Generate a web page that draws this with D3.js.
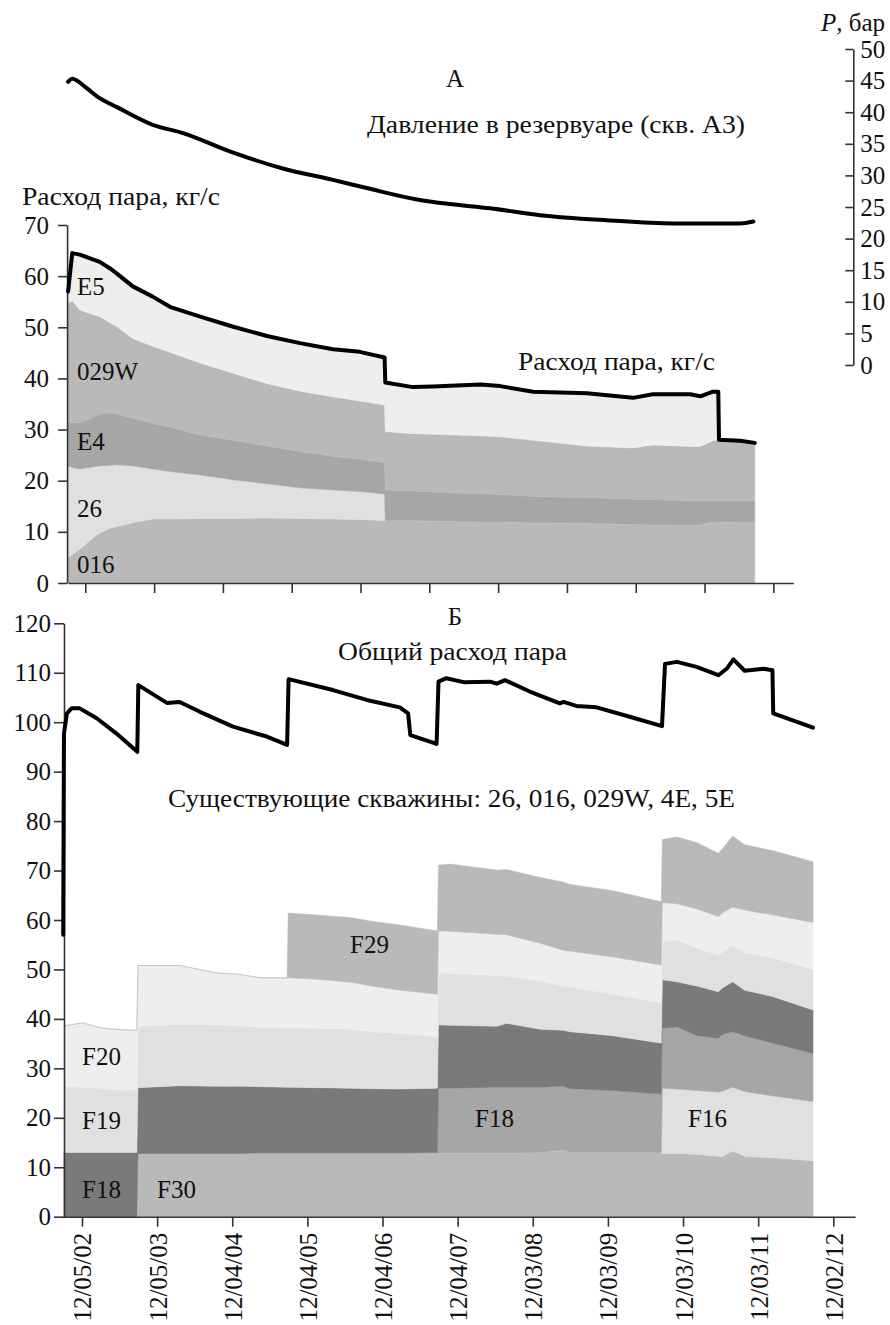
<!DOCTYPE html>
<html><head><meta charset="utf-8">
<script src="https://cdn.jsdelivr.net/npm/d3@7/dist/d3.min.js"></script>
<style>
body{margin:0;background:#fff;}
svg{display:block;}
</style></head><body>
<svg id="chart" width="890" height="1325"></svg>
<script>
// ---------- DATA ----------
// x: years since 12/05/02 (mm/dd/yy), ticks every 365 days
const tickYears = [0,1,2,3,4,5,6,7,8,9,10];
const tickLabels = ["12/05/02","12/05/03","12/04/04","12/04/05","12/04/06","12/04/07","12/03/08","12/03/09","12/03/10","12/03/11","12/02/12"];

// Panel A: steam flow of existing wells, kg/s (stacked)
const topTimes = [-0.25,-0.19,-0.08,0.11,0.21,0.36,0.46,0.69,0.98,1.23,1.67,2.15,2.64,3.12,3.60,3.99,4.35,4.36,4.76,5.05,5.74,6.03,6.51,7.29,7.96,8.25,8.79,8.94,9.12,9.20,9.21,9.52,9.73];
const well016  = [5.0,5.5,6.6,8.8,9.8,10.7,11.0,11.8,12.5,12.5,12.6,12.6,12.7,12.6,12.5,12.4,12.2,12.2,12.2,12.1,12.0,12.0,11.8,11.7,11.5,11.4,11.3,11.4,12.0,12.0,12.0,11.9,11.9];
const well26   = [17.9,17.1,15.7,13.9,13.1,12.3,12.1,11.1,9.8,9.3,8.5,7.6,6.7,6.0,5.7,5.5,5.2,0,0,0,0,0,0,0,0,0,0,0,0,0,0,0,0];
const wellE4   = [8.6,8.8,9.0,9.7,10.1,10.3,9.9,9.3,8.9,8.7,7.8,7.7,7.4,7.1,6.6,6.3,6.1,6.0,5.8,5.7,5.4,5.3,5.1,5.0,4.9,4.9,4.8,4.7,4.1,4.1,4.1,4.2,4.2];
const well029W = [23.2,23.8,22.1,20.1,19.1,17.6,17.1,15.6,15.1,14.6,14.1,13.1,12.2,11.8,11.6,11.4,11.3,11.4,11.2,11.3,11.4,11.3,11.0,10.1,10.0,10.7,10.6,10.6,11.7,11.9,11.9,11.7,11.3];
const wellE5   = [2.3,9.3,10.8,10.8,10.7,10.6,10.4,10.2,9.7,8.9,9.1,9.1,9.3,9.4,9.3,9.6,9.3,9.6,9.1,9.3,10.0,9.9,9.5,10.3,9.8,9.9,10.2,9.8,9.6,9.4,0,0,0];

// Panel A: reservoir pressure (well A3), bar
const pressureTimes = [-0.25,-0.19,0.02,0.17,0.46,0.98,1.42,2.15,2.87,3.60,4.09,4.82,5.27,5.88,6.61,7.58,8.54,9.52,9.71];
const pressure      = [44.8,45.3,43.8,42.5,40.8,38.0,36.7,33.6,31.1,29.3,28.0,26.2,25.5,24.8,23.7,22.9,22.4,22.4,22.7];

// Panel B: new wells, kg/s (stacked)
const botTimes = [-0.24,0.01,0.24,0.51,0.73, 0.745,1.30,1.79,2.10,2.37,2.73, 2.745,3.12,3.57,3.87,4.23,4.73, 4.745,4.90,5.52,5.65,6.10,6.40,6.50,7.07,7.71, 7.725,7.92,8.19,8.47,8.53,8.66,8.82,9.20,9.73];
const wellF30  = [0,0,0,0,0, 12.8,12.8,12.8,12.8,12.9,12.9, 12.9,12.9,12.9,12.9,12.9,13.0, 12.9,12.9,12.9,12.9,13.0,13.5,13.0,13.0,13.0, 12.8,12.8,12.6,12.2,12.2,13.3,12.2,11.9,11.3];
const wellF16  = [0,0,0,0,0, 0,0,0,0,0,0, 0,0,0,0,0,0, 0,0,0,0,0,0,0,0,0, 13.2,13.0,12.9,13.0,13.2,12.9,13.1,12.5,12.0];
const wellF18b = [0,0,0,0,0, 0,0,0,0,0,0, 0,0,0,0,0,0, 13.1,13.1,13.3,13.3,13.2,12.9,12.9,12.5,11.8, 12.1,12.6,11.1,10.9,11.5,11.2,11.3,10.7,9.7];
const wellF18  = [13.0,13.0,13.0,13.0,13.0, 13.3,13.7,13.6,13.6,13.4,13.3, 13.3,13.2,13.1,13.0,12.9,13.0, 12.8,12.7,12.3,12.9,11.7,11.3,11.5,11.1,10.3, 9.8,9.1,10.0,9.4,9.4,10.1,9.2,9.4,8.8];
const wellF19  = [13.3,13.2,13.0,12.6,12.7, 12.4,12.4,12.4,12.2,12.0,12.0, 12.0,12.0,11.9,11.5,11.3,10.4, 10.5,10.5,10.3,9.6,9.7,9.0,9.1,8.4,8.1, 7.7,8.5,7.7,7.4,7.3,7.4,7.6,7.8,8.2];
const wellF20  = [12.3,13.0,12.2,12.2,12.0, 12.3,11.9,10.5,10.4,10.0,10.1, 10.1,9.9,9.5,9.2,8.7,8.6, 8.5,8.5,8.3,8.3,7.7,7.2,7.2,7.5,7.7, 7.9,7.3,7.9,7.8,7.9,7.7,8.6,8.7,9.5];
const wellF29  = [0,0,0,0,0, 0,0,0,0,0,0, 13.1,13.0,13.1,13.1,13.2,12.8, 13.3,13.6,13.0,13.2,13.3,13.8,13.5,13.4,12.8, 12.8,13.5,13.4,12.8,13.0,14.4,13.2,13.0,12.3];

// Panel B: total steam flow, kg/s
const totalTimes = [-0.25,-0.24,-0.20,-0.14,-0.03,0.196,0.46,0.736,0.75,1.13,1.30,1.57,2.01,2.46,2.73,2.75,3.34,3.79,4.23,4.34,4.37,4.72,4.745,4.85,5.08,5.43,5.52,5.63,5.96,6.36,6.41,6.58,6.85,7.29,7.72,7.76,7.92,8.18,8.47,8.58,8.67,8.82,9.07,9.19,9.20,9.73];
const totalFlow  = [57.0,97.7,101.8,102.8,102.8,100.8,97.7,94.0,107.5,103.9,104.1,102.1,99.1,97.1,95.4,108.7,106.5,104.5,103.0,101.8,97.4,95.6,108.2,108.9,108.1,108.2,107.8,108.5,106.2,103.8,104.1,103.3,103.0,101.1,99.2,111.8,112.2,111.2,109.5,110.8,112.7,110.4,110.8,110.5,101.8,98.9];

const topKeys = ["016","26","E4","029W","E5"];
const topSeries = [well016, well26, wellE4, well029W, wellE5];
const botKeys = ["F30","F16","F18b","F18","F19","F20","F29"];
const botSeries = [wellF30, wellF16, wellF18b, wellF18, wellF19, wellF20, wellF29];

// ---------- STYLE ----------
const topColors = {"016":"#b9b9b9","26":"#e0e0e0","E4":"#a6a6a6","029W":"#b9b9b9","E5":"#eeeeee"};
const botColors = {"F30":"#b9b9b9","F16":"#e0e0e0","F18b":"#a6a6a6","F18":"#7a7a7a","F19":"#e0e0e0","F20":"#eeeeee","F29":"#b9b9b9"};
const FS = 25;
const FONT = "Liberation Serif";
const axisColor = "#333";

const svg = d3.select("#chart");

// ---------- SCALES ----------
const xDomain = [-0.25, 10.29];
const xTop = d3.scaleLinear().domain(xDomain).range([68.1, 793.3]);
const xBot = d3.scaleLinear().domain(xDomain).range([63.2, 855.1]);
const yTop = d3.scaleLinear().domain([0,70]).range([583, 225]);
const yP   = d3.scaleLinear().domain([0,50]).range([365, 49]);
const yBot = d3.scaleLinear().domain([0,120]).range([1216.7, 623.3]);

// ---------- PANEL A ----------
const topRows = topTimes.map((t,i)=>{const r={t}; topKeys.forEach((k,j)=>r[k]=topSeries[j][i]); return r;});
const topStack = d3.stack().keys(topKeys)(topRows);
const areaTop = d3.area().x(d=>xTop(d.data.t)).y0(d=>yTop(d[0])).y1(d=>yTop(d[1]));
svg.append("g").selectAll("path").data(topStack).join("path")
  .attr("d", areaTop).attr("fill", d=>topColors[d.key]).attr("stroke", d=>topColors[d.key]).attr("stroke-width",0.5);

function styleAxis(g){
  g.attr("font-family", FONT).attr("font-size", FS);
  g.selectAll("path.domain").attr("stroke", axisColor).attr("stroke-width",1.6);
  g.selectAll(".tick line").attr("stroke", axisColor).attr("stroke-width",1.6);
  g.selectAll(".tick text").attr("fill","#111").style("font-family",FONT).style("font-size",FS+"px");
}

const gxTop = svg.append("g").attr("transform",`translate(0,${yTop(0)})`)
  .call(d3.axisBottom(xTop).tickValues(tickYears).tickFormat("").tickSize(10).tickSizeOuter(0));
styleAxis(gxTop);
const gyTop = svg.append("g").attr("transform",`translate(${xTop.range()[0]-1},0)`)
  .call(d3.axisLeft(yTop).tickValues(d3.range(0,71,10)).tickSize(9).tickPadding(9).tickSizeOuter(0));
styleAxis(gyTop);
const gyP = svg.append("g").attr("transform",`translate(853.3,0)`)
  .call(d3.axisRight(yP).tickValues(d3.range(0,51,5)).tickSizeInner(-8).tickSizeOuter(0).tickPadding(7));
styleAxis(gyP);

// total line panel A (top of stack)
const lineTop = d3.line().x(d=>xTop(d.data.t)).y(d=>yTop(d[1]));
svg.append("path").datum(topStack[topStack.length-1]).attr("d", lineTop)
  .attr("fill","none").attr("stroke","#000").attr("stroke-width",4).attr("stroke-linejoin","round").attr("stroke-linecap","round");

// pressure line
const lineP = d3.line().x(d=>xTop(d[0])).y(d=>yP(d[1])).curve(d3.curveMonotoneX);
svg.append("path").datum(pressureTimes.map((t,i)=>[t,pressure[i]])).attr("d", lineP)
  .attr("fill","none").attr("stroke","#000").attr("stroke-width",4).attr("stroke-linejoin","round").attr("stroke-linecap","round");

// ---------- PANEL B ----------
const botRows = botTimes.map((t,i)=>{const r={t}; botKeys.forEach((k,j)=>r[k]=botSeries[j][i]); return r;});
const botStack = d3.stack().keys(botKeys)(botRows);
const areaBot = d3.area().x(d=>xBot(d.data.t)).y0(d=>yBot(d[0])).y1(d=>yBot(d[1]));
svg.append("g").selectAll("path").data(botStack).join("path")
  .attr("d", areaBot).attr("fill", d=>botColors[d.key]).attr("stroke", d=>botColors[d.key]).attr("stroke-width",0.5);

const gxBot = svg.append("g").attr("transform",`translate(0,${yBot(0)})`)
  .call(d3.axisBottom(xBot).tickValues(tickYears).tickFormat((d,i)=>tickLabels[i]).tickSize(10).tickSizeOuter(0));
styleAxis(gxBot);
gxBot.selectAll(".tick text").attr("transform","rotate(-90)").attr("text-anchor","end")
  .attr("x",-16).attr("y",0).attr("dy","0.36em");
const gyBot = svg.append("g").attr("transform",`translate(${xBot.range()[0]+0.8},0)`)
  .call(d3.axisLeft(yBot).tickValues(d3.range(0,121,10)).tickSize(10).tickPadding(3).tickSizeOuter(0));
styleAxis(gyBot);

const lineBot = d3.line().x(d=>xBot(d[0])).y(d=>yBot(d[1]));
svg.append("path").datum(totalTimes.map((t,i)=>[t,totalFlow[i]])).attr("d", lineBot)
  .attr("fill","none").attr("stroke","#000").attr("stroke-width",4).attr("stroke-linejoin","round").attr("stroke-linecap","round");

// ---------- TEXT ----------
const notes = [
  {t:"А", x:455, y:87, a:"middle"},
  {t:"Давление в резервуаре (скв. А3)", x:367, y:133, w:378},
  {t:"Расход пара, кг/с", x:22, y:205, w:198},
  {t:"Расход пара, кг/с", x:518, y:370, w:197},
  {t:"E5", x:77, y:295},
  {t:"029W", x:77, y:380},
  {t:"E4", x:77, y:450},
  {t:"26", x:77, y:517},
  {t:"016", x:77, y:573},
  {t:"Б", x:455, y:625, a:"middle"},
  {t:"Общий расход пара", x:338, y:660, w:229},
  {t:"Существующие скважины: 26, 016, 029W, 4E, 5E", x:168, y:807, w:567},
  {t:"F29", x:350, y:953},
  {t:"F20", x:82, y:1065},
  {t:"F19", x:82, y:1129},
  {t:"F18", x:82, y:1198},
  {t:"F30", x:157, y:1198},
  {t:"F18", x:475, y:1127},
  {t:"F16", x:688, y:1127}
];
const nt = svg.append("g").selectAll("text").data(notes).join("text")
  .attr("x",d=>d.x).attr("y",d=>d.y).attr("text-anchor",d=>d.a||"start")
  .attr("fill","#111")
  .style("font-family",FONT).style("font-size",FS+"px").text(d=>d.t);
nt.each(function(d){
  if(d.w){
    const L = this.getComputedTextLength();
    if (Math.abs(L-d.w)/d.w > 0.02) d3.select(this).attr("textLength", d.w).attr("lengthAdjust","spacingAndGlyphs");
  }
});

const pl = svg.append("text").attr("x",885).attr("y",31).attr("text-anchor","end")
  .attr("fill","#111").style("font-family",FONT).style("font-size",FS+"px");
pl.append("tspan").style("font-style","italic").text("P");
pl.append("tspan").text(", бар");
</script>
</body></html>
